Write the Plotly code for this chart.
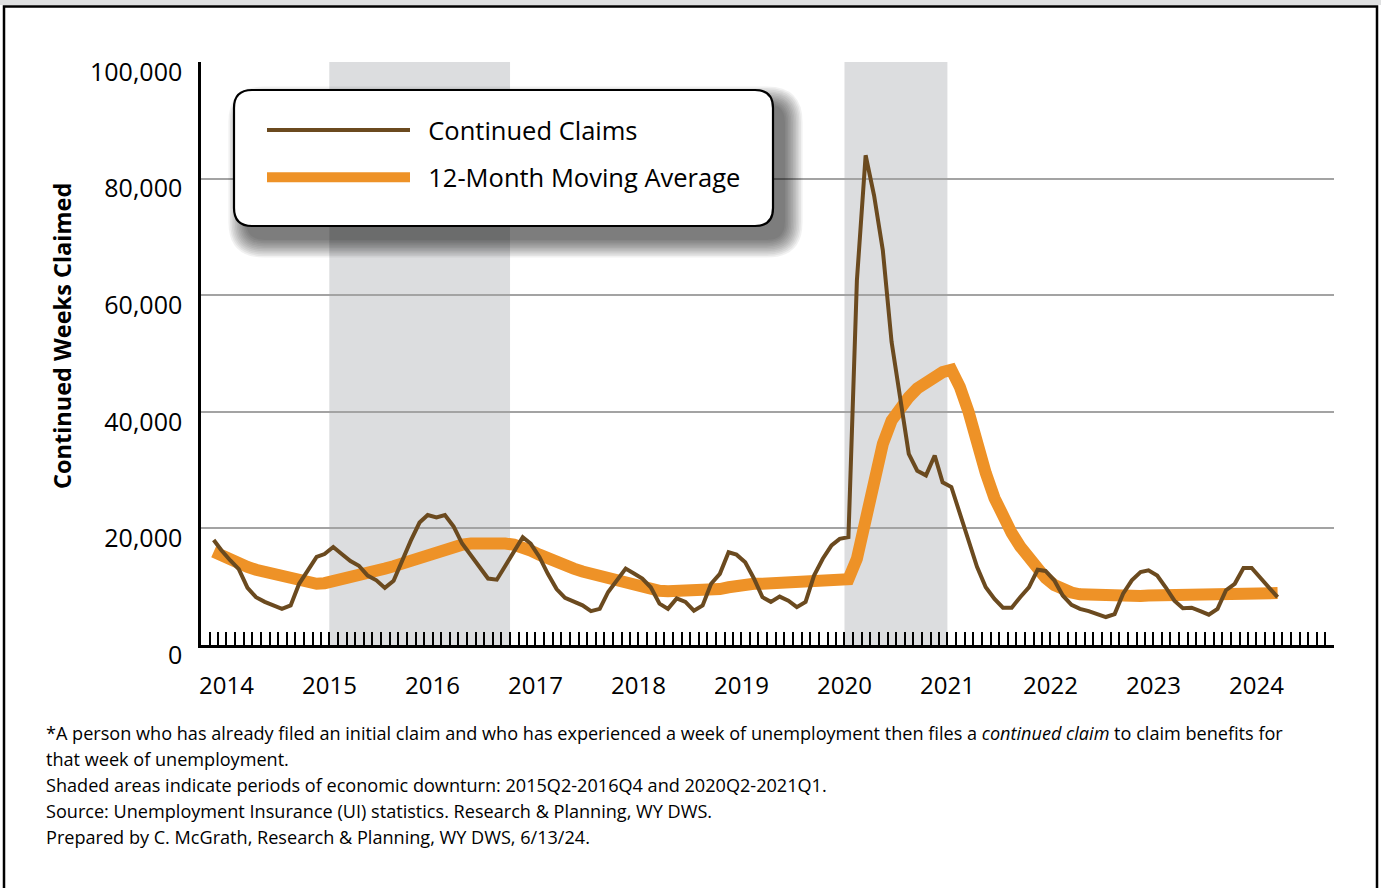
import plotly.graph_objects as go
import pandas as pd

# ---------------- data ----------------
months = pd.date_range("2014-01-15", periods=125, freq="MS") + pd.Timedelta(days=14)

continued_claims = [
    18000, 16200, 14500, 13000, 9800, 8200, 7400, 6800, 6200, 6800, 10500, 12800,
    15100, 15600, 16800, 15600, 14400, 13600, 11900, 11100, 9800, 11000, 14500, 17900,
    21000, 22300, 21900, 22300, 20300, 17400, 15400, 13400, 11400, 11200, 13600, 16200,
    18500, 17400, 15100, 12200, 9600, 8100, 7400, 6800, 5800, 6200, 9100, 11200,
    13100, 12300, 11400, 9900, 7100, 6200, 8000, 7400, 5900, 6800, 10500, 12200,
    15900, 15500, 14200, 11500, 8200, 7400, 8300, 7600, 6500, 7400, 11900, 14800,
    17100, 18200, 18500, 62500, 84000, 77100, 67700, 52000, 42300, 32800, 29900, 29100,
    32500, 27900, 27100, 22500, 17900, 13400, 9900, 7900, 6400, 6400, 8200, 9900,
    12900, 12700, 11100, 8500, 6900, 6200, 5800, 5300, 4800, 5300, 8800, 11100,
    12500, 12800, 11900, 9900, 7600, 6300, 6400, 5800, 5200, 6200, 9400, 10500,
    13200, 13200, 11600, 9900, 8200,
]

moving_average = [
    16000, 15300, 14600, 14000, 13400, 12900, 12500, 12100, 11700, 11300, 10900, 10600,
    10500, 10600, 10900, 11200, 11600, 12000, 12400, 12800, 13100, 13500, 14000, 14500,
    15000, 15500, 16000, 16500, 16900, 17200, 17400, 17500, 17500, 17500, 17400, 17200,
    16800, 16200, 15500, 14800, 14200, 13600, 13100, 12600, 12200, 11800, 11400, 10900,
    10500, 10100, 9800, 9500, 9300, 9200, 9200, 9200, 9200, 9300, 9400, 9600,
    9900, 10200, 10400, 10500, 10500, 10600, 10600, 10700, 10700, 10700, 10800, 10900,
    11000, 11100, 11300, 14800, 21800, 28800, 34500, 38500, 40800, 42500, 44000, 45100,
    46100, 46800, 47200, 44300, 40000, 34200, 29500, 25200, 21800, 19200, 16900, 14800,
    13000, 11500, 10300, 9500, 9000, 8700, 8600, 8500, 8400, 8400, 8400, 8400,
    8400, 8500, 8500, 8500, 8600, 8600, 8600, 8700, 8700, 8700, 8800, 8800,
    8900, 8900, 8900, 8900, 8900,
]

year_labels = [str(y) for y in range(2014, 2025)]
y_ticks = [0, 20000, 40000, 60000, 80000, 100000]
y_tick_text = ["0", "20,000", "40,000", "60,000", "80,000", "100,000"]
downturns = [("2015-04-01", "2017-01-01"), ("2020-04-01", "2021-04-01")]

footnotes = [
    "*A person who has already filed an initial claim and who has experienced a week of unemployment then files a <i>continued claim</i> to claim benefits for",
    "that week of unemployment.",
    "Shaded areas indicate periods of economic downturn: 2015Q2-2016Q4 and 2020Q2-2021Q1.",
    "Source: Unemployment Insurance (UI) statistics. Research & Planning, WY DWS.",
    "Prepared by C. McGrath, Research & Planning, WY DWS, 6/13/24.",
]

# ---------------- styling ----------------
FONT = "Open Sans"
BROWN = "#6b4a1f"
ORANGE = "#ee9227"
SHADE = "#dcdddf"
GAP = "\u00a0\u00a0"

W, H = 1381, 888
L, R, T, B = 201, 47, 62, 243
PW, PH = W - L - R, H - T - B


def px(xp):
    return (xp - L) / PW


def py(yp):
    return (H - B - yp) / PH


fig = go.Figure()

fig.add_trace(go.Scatter(
    x=months, y=moving_average, mode="lines", name=GAP + "12-Month Moving Average",
    line=dict(color=ORANGE, width=12), legendrank=2, legendgroup="ma", hoverinfo="x+y",
))
fig.add_trace(go.Scatter(
    x=months, y=continued_claims, mode="lines", name=GAP + "Continued Claims",
    line=dict(color=BROWN, width=4), legendrank=1, legendgroup="cc", hoverinfo="x+y",
))

shapes = []
for a, b in downturns:
    shapes.append(dict(type="rect", xref="x", yref="paper", x0=a, x1=b, y0=0, y1=1,
                       fillcolor=SHADE, line=dict(width=0), layer="below"))


def rounded(x0, y0, x1, y1, r):
    return (f"M {px(x0 + r)},{py(y0)} L {px(x1 - r)},{py(y0)} "
            f"Q {px(x1)},{py(y0)} {px(x1)},{py(y0 + r)} "
            f"L {px(x1)},{py(y1 - r)} Q {px(x1)},{py(y1)} {px(x1 - r)},{py(y1)} "
            f"L {px(x0 + r)},{py(y1)} Q {px(x0)},{py(y1)} {px(x0)},{py(y1 - r)} "
            f"L {px(x0)},{py(y0 + r)} Q {px(x0)},{py(y0)} {px(x0 + r)},{py(y0)} Z")


# legend box with soft shadow
bx0, by0, bx1, by1 = 234, 90, 773, 226
for k in range(12):
    g = k * 1.6
    shapes.append(dict(type="path", xref="paper", yref="paper",
                       path=rounded(bx0 + 12 - g, by0 + 14 - g, bx1 + 12 + g, by1 + 14 + g, 18 + g),
                       fillcolor="rgba(0,0,0,0.055)", line=dict(width=0), layer="above"))
shapes.append(dict(type="path", xref="paper", yref="paper", path=rounded(bx0, by0, bx1, by1, 18),
                   fillcolor="white", line=dict(color="black", width=2.2), layer="above"))

# outer frame
shapes.append(dict(type="rect", xref="paper", yref="paper", x0=px(0), x1=px(W), y0=py(0), y1=py(5),
                   fillcolor="#dfe0e1", line=dict(width=0), layer="above"))
shapes.append(dict(type="rect", xref="paper", yref="paper", x0=px(4), x1=px(1377), y0=py(6.5), y1=py(H + 10),
                   fillcolor="rgba(0,0,0,0)", line=dict(color="black", width=2.5), layer="below"))

annotations = []
for yl in year_labels:
    annotations.append(dict(x=f"{yl}-01-01", xref="x", y=py(684), yref="paper",
                            text=yl, showarrow=False, xanchor="left", yanchor="middle", xshift=-4,
                            font=dict(family=FONT, size=24, color="black")))

annotations.append(dict(x=px(62), y=py(336), xref="paper", yref="paper", text="<b>Continued Weeks Claimed</b>",
                        textangle=-90, showarrow=False, xanchor="center", yanchor="middle",
                        font=dict(family=FONT, size=23.5, color="black")))

for i, t in enumerate(footnotes):
    annotations.append(dict(x=px(44), y=py(733 + 26 * i), xref="paper", yref="paper", text=t,
                            showarrow=False, xanchor="left", yanchor="middle", align="left",
                            font=dict(family=FONT, size=18.1, color="black")))

fig.update_layout(
    width=W, height=H, autosize=False,
    margin=dict(l=L, r=R, t=T, b=B),
    paper_bgcolor="white", plot_bgcolor="white",
    font=dict(family=FONT, color="black"),
    shapes=shapes, annotations=annotations,
    showlegend=True,
    legend=dict(x=px(262), y=py(107), xanchor="left", yanchor="top",
                bgcolor="rgba(0,0,0,0)", borderwidth=0, itemwidth=143,
                font=dict(family=FONT, size=25.5, color="black"),
                traceorder="grouped", tracegroupgap=11),
    xaxis=dict(type="date", range=["2014-01-01", "2025-01-01"],
               tickmode="linear", tick0="2014-01-01", dtick="M1",
               ticks="inside", ticklen=13, tickwidth=2, tickcolor="black",
               showticklabels=False, showgrid=False, zeroline=False,
               showline=True, linecolor="black", linewidth=3),
    yaxis=dict(range=[0, 100000], tickmode="array", tickvals=y_ticks, ticktext=y_tick_text,
               showgrid=True, gridcolor="#a3a3a3", gridwidth=1.5, zeroline=False,
               showline=True, linecolor="black", linewidth=2.5, ticks="",
               ticklabelstandoff=11, ticklabelshift=10,
               tickfont=dict(family=FONT, size=25, color="black")),
)

fig.write_html("out.html", config={"displayModeBar": False},
               post_script="document.body.style.margin='0px';document.body.style.overflow='hidden';")
